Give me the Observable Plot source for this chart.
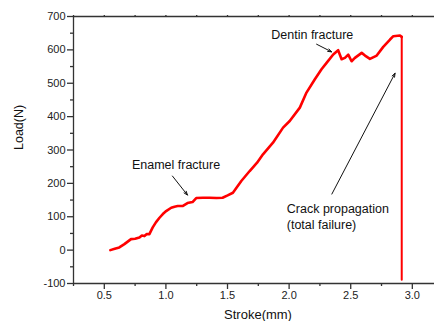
<!DOCTYPE html>
<html>
<head>
<meta charset="utf-8">
<script src="https://cdn.jsdelivr.net/npm/d3@7"></script>
<script src="https://cdn.jsdelivr.net/npm/@observablehq/plot@0.6"></script>
<style>
  html, body { margin: 0; padding: 0; background: #fff; }
  #chart svg { display: block; }
</style>
</head>
<body>
<div id="chart"></div>
<script>
// Load–stroke curve
const strokeMm = [0.549, 0.585, 0.622, 0.663, 0.717, 0.750, 0.785, 0.805, 0.826, 0.845, 0.866, 0.893, 0.920, 0.948, 0.975, 1.002, 1.043, 1.070, 1.096, 1.135, 1.175, 1.216, 1.246, 1.300, 1.354, 1.410, 1.460, 1.501, 1.544, 1.612, 1.680, 1.740, 1.788, 1.869, 1.951, 2.005, 2.087, 2.141, 2.209, 2.263, 2.304, 2.358, 2.398, 2.426, 2.453, 2.480, 2.507, 2.534, 2.589, 2.616, 2.656, 2.711, 2.764, 2.819, 2.846, 2.900, 2.914, 2.914];
const loadN    = [0,     4,     8,     18,    33,    34,    38,    44,    42,    48,    48,    68,    84,    97,    108,   117,   127,   130,   132,   132,   141,   144,   156,   157,   157,   156,   157,   164,   172,   207,   237,   262,   287,   322,   367,   387,   427,   472,   512,   542,   561,   586,   599,   572,   576,   586,   566,   576,   591,   583,   573,   583,   609,   631,   641,   643,   639,   -89];

// Axis ticks
const xTicks = [0.5, 1.0, 1.5, 2.0, 2.5, 3.0];
const xTickLabels = ["0.5", "1.0", "1.5", "2.0", "2.5", "3.0"];
const xMinorTicks = [0.25, 0.75, 1.25, 1.75, 2.25, 2.75];
const yTicks = [-100, 0, 100, 200, 300, 400, 500, 600, 700];
const yTickLabels = ["-100", "0", "100", "200", "300", "400", "500", "600", "700"];
const yMinorTicks = [-50, 50, 150, 250, 350, 450, 550, 650];
const xLabel = "Stroke(mm)";
const yLabel = "Load(N)";

// Annotations (data coordinates)
const centerNoteText = ["Dentin fracture", "Enamel fracture"];
const centerNoteX = [2.188, 1.082];
const centerNoteY = [644, 255];
const leftNoteText = ["Crack propagation\n(total failure)"];
const leftNoteX = [1.981];
const leftNoteY = [103];
const arrowX1 = [2.223, 1.053, 2.347];
const arrowY1 = [617, 222, 168];
const arrowX2 = [2.345, 1.175, 2.860];
const arrowY2 = [594, 165, 530];

const curve = strokeMm.map((x, i) => ({x, y: loadN[i]}));
const mainCurve = curve.slice(0, curve.length - 1);
const dropCurve = curve.slice(curve.length - 2);
const centerNotes = centerNoteText.map((t, i) => ({t, x: centerNoteX[i], y: centerNoteY[i]}));
const leftNotes = leftNoteText.map((t, i) => ({t, x: leftNoteX[i], y: leftNoteY[i]}));
const arrows = arrowX1.map((x1, i) => ({x1, y1: arrowY1[i], x2: arrowX2[i], y2: arrowY2[i]}));

const axisColor = "#333";
const font = "'Liberation Sans', Arial, sans-serif";

const chart = Plot.plot({
  width: 434,
  height: 321,
  marginLeft: 73,
  marginRight: 0,
  marginTop: 16,
  marginBottom: 38,
  style: {fontFamily: font, fontSize: "11px", color: "#222", background: "#fff", overflow: "visible"},
  x: {domain: [0.25, 3.18]},
  y: {domain: [-100, 700]},
  marks: [
    Plot.ruleY([700], {stroke: axisColor, strokeWidth: 1.3}),
    Plot.ruleY([-100], {stroke: axisColor, strokeWidth: 1.3}),
    Plot.ruleX([0.25], {stroke: axisColor, strokeWidth: 1.3}),
    Plot.axisY({ticks: yTicks, tickFormat: (d, i) => yTickLabels[i], tickSize: 6, tickPadding: 2, stroke: axisColor, strokeWidth: 1.3, label: null, fontSize: 11}),
    Plot.axisY({ticks: yMinorTicks, tickSize: 3, tickFormat: () => "", stroke: axisColor, strokeWidth: 1.3, label: null}),
    Plot.axisX({ticks: xTicks, tickFormat: (d, i) => xTickLabels[i], tickSize: 6, tickPadding: 2, stroke: axisColor, strokeWidth: 1.3, label: null, fontSize: 11}),
    Plot.axisX({ticks: xMinorTicks, tickSize: 3, tickFormat: () => "", stroke: axisColor, strokeWidth: 1.3, label: null}),
    Plot.axisX({anchor: "top", ticks: xTicks.concat(xMinorTicks), tickSize: 2, tickFormat: () => "", stroke: axisColor, strokeWidth: 1.3, label: null}),
    Plot.text([yLabel], {frameAnchor: "left", rotate: -90, dx: -55, fontSize: 12.5, fill: "#111", fontFamily: font}),
    Plot.text([xLabel], {frameAnchor: "bottom", dy: 35, dx: 4, fontSize: 13, fill: "#111", fontFamily: font}),
    Plot.line(dropCurve, {x: "x", y: "y", stroke: "#ff0000", strokeWidth: 2, curve: "linear"}),
    Plot.line(mainCurve, {x: "x", y: "y", stroke: "#ff0000", strokeWidth: 2.6, curve: "linear", strokeLinejoin: "round"}),
    Plot.arrow(arrows, {x1: "x1", y1: "y1", x2: "x2", y2: "y2", stroke: "#111", strokeWidth: 1, headLength: 6, headAngle: 40}),
    Plot.text(centerNotes, {x: "x", y: "y", text: "t", textAnchor: "middle", lineAnchor: "middle", fontSize: 12.5, fill: "#111", fontFamily: font}),
    Plot.text(leftNotes, {x: "x", y: "y", text: "t", textAnchor: "start", lineAnchor: "middle", lineHeight: 1.3, fontSize: 12.5, fill: "#111", fontFamily: font})
  ]
});
document.getElementById("chart").appendChild(chart);
</script>
</body>
</html>
